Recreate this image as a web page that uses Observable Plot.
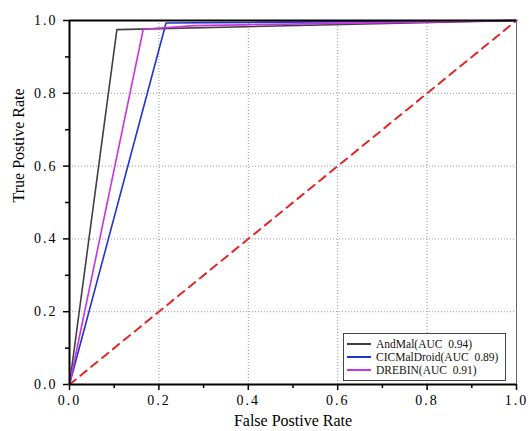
<!DOCTYPE html>
<html><head><meta charset="utf-8">
<script src="https://cdn.jsdelivr.net/npm/d3@7"></script>
<script src="https://cdn.jsdelivr.net/npm/@observablehq/plot@0.6"></script>
<style>
body{margin:0;background:#fff;}
#wrap{position:relative;width:530px;height:431px;}
#wrap svg, #wrap svg text{font-family:"Liberation Serif",serif;}
#legend{position:absolute;left:343px;top:333px;width:163px;height:48px;border:1px solid #444;box-sizing:border-box;background:#fff;font-family:"Liberation Serif",serif;font-size:11.5px;color:#111;padding-top:3px;}
#legend .row{display:flex;align-items:center;height:13px;}
#legend .sw{width:24px;height:0;border-top:2px solid;margin:0 5px 0 3px;}
</style></head>
<body><div id="wrap"><div id="legend"></div></div>
<script>
const series = ["AndMal", "CICMalDroid", "DREBIN"];
const auc = [0.94, 0.89, 0.91];
const colors = ["#404040", "#2233cc", "#cc33dd"];
const andmalFpr = [0, 0.106, 1];
const andmalTpr = [0, 0.975, 1];
const cicFpr = [0, 0.216, 1];
const cicTpr = [0, 0.993, 1];
const drebinFpr = [0, 0.165, 0.28, 1];
const drebinTpr = [0, 0.976, 0.986, 1];
const majorTicks = [0, 0.2, 0.4, 0.6, 0.8, 1.0];
const minorTicks = [0.1, 0.3, 0.5, 0.7, 0.9];
const gridTicks = [0.2, 0.4, 0.6, 0.8];
const xLabel = "False Postive Rate";
const yLabel = "True Postive Rate";

const fprs = [andmalFpr, cicFpr, drebinFpr];
const tprs = [andmalTpr, cicTpr, drebinTpr];
const rows = [];
series.forEach((s, i) => fprs[i].forEach((f, j) => rows.push({series: s, fpr: f, tpr: tprs[i][j]})));

const serif = "Liberation Serif";
const chart = Plot.plot({
  width: 530, height: 431,
  marginLeft: 69, marginRight: 14, marginTop: 20, marginBottom: 47,
  style: {background: "#fff"},
  x: {domain: [0, 1], label: null},
  y: {domain: [0, 1], label: null},
  color: {domain: series, range: colors},
  marks: [
    Plot.gridX(gridTicks, {stroke: "#999", strokeOpacity: 1, strokeDasharray: "1,2"}),
    Plot.gridY(gridTicks, {stroke: "#999", strokeOpacity: 1, strokeDasharray: "1,2"}),
    Plot.axisX(majorTicks, {tickSize: 6, tickPadding: 5, tickFormat: d3.format(".1f"), stroke: "#000", strokeWidth: 1.5, fontSize: 14, fontFamily: serif, label: null}),
    Plot.axisX(minorTicks, {tickSize: 4, text: null, label: null, stroke: "#000", strokeWidth: 1.5}),
    Plot.axisY(majorTicks, {tickSize: 6, tickPadding: 6, tickFormat: d3.format(".1f"), stroke: "#000", strokeWidth: 1.5, fontSize: 14, fontFamily: serif, label: null}),
    Plot.axisY(minorTicks, {tickSize: 4, text: null, label: null, stroke: "#000", strokeWidth: 1.5}),
    Plot.text([xLabel], {text: d => d, frameAnchor: "bottom", dy: 36, fontSize: 16, fontFamily: serif, lineAnchor: "middle"}),
    Plot.text([yLabel], {text: d => d, frameAnchor: "left", dx: -51, fontSize: 16, fontFamily: serif, rotate: -90, lineAnchor: "middle"}),
    Plot.line([[0,0],[1,1]], {stroke: "#e02828", strokeWidth: 2, strokeDasharray: "8,6"}),
    Plot.line(rows, {x: "fpr", y: "tpr", z: "series", stroke: "series", strokeWidth: 1.6}),
    Plot.ruleX([1], {stroke: "#666", strokeWidth: 1}),
    Plot.ruleY([1], {stroke: "#000", strokeWidth: 2}),
    Plot.ruleX([0], {stroke: "#000", strokeWidth: 2}),
    Plot.ruleY([0], {stroke: "#000", strokeWidth: 2})
  ]
});
chart.querySelectorAll("text").forEach(t => {
  if (/^\d\.\d$/.test(t.textContent)) t.style.letterSpacing = "2px";
});
const wrap = document.getElementById("wrap");
wrap.insertBefore(chart, wrap.firstChild);
const leg = document.getElementById("legend");
series.forEach((s, i) => {
  const r = document.createElement("div"); r.className = "row";
  r.innerHTML = `<span class="sw" style="border-color:${colors[i]}"></span><span>${s}(AUC&nbsp; ${auc[i].toFixed(2)})</span>`;
  leg.appendChild(r);
});
</script></body></html>
